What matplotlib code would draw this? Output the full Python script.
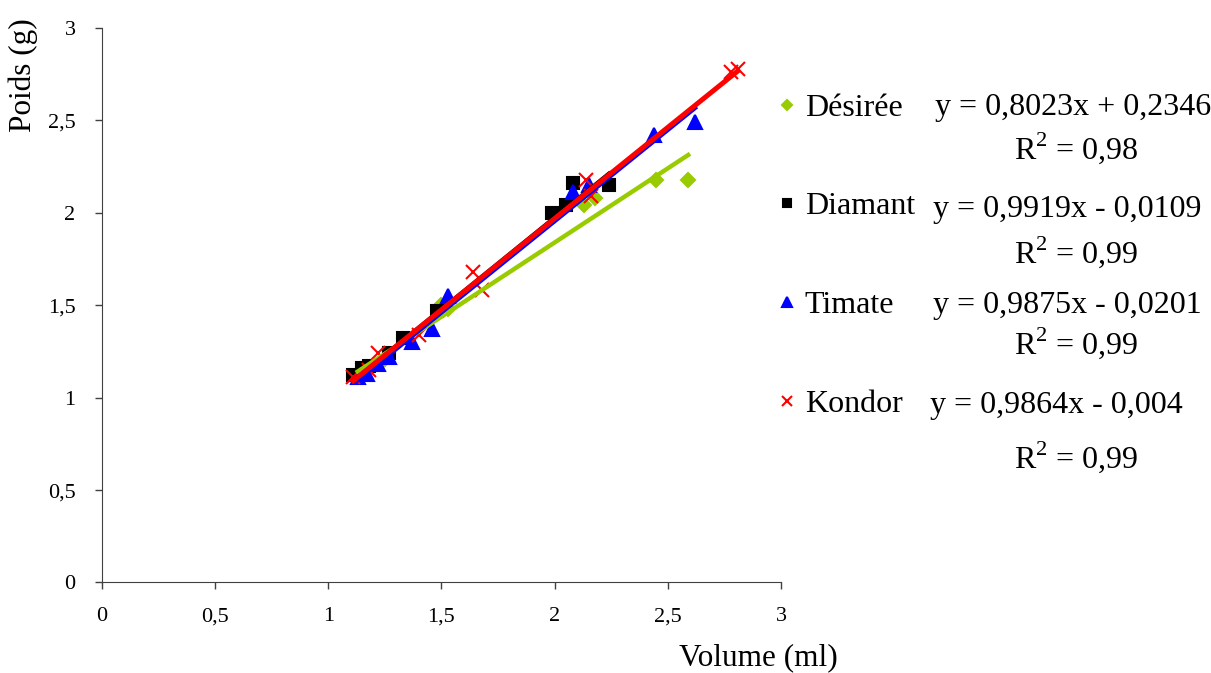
import numpy as np
import matplotlib.pyplot as plt
from matplotlib.lines import Line2D

plt.rcParams['font.family'] = ['Liberation Serif', 'DejaVu Serif']
plt.rcParams['mathtext.fontset'] = 'custom'
plt.rcParams['mathtext.rm'] = 'Liberation Serif'

# --- DATA ---
varieties = ['Désirée', 'Diamant', 'Timate', 'Kondor']

desiree_x = [1.13, 1.18, 1.25, 1.50, 1.53, 2.13, 2.18, 2.45, 2.59]
desiree_y = [1.12, 1.16, 1.21, 1.50, 1.48, 2.04, 2.08, 2.18, 2.18]

diamant_x = [1.11, 1.15, 1.18, 1.27, 1.33, 1.48, 1.99, 2.05, 2.08, 2.24]
diamant_y = [1.12, 1.16, 1.17, 1.24, 1.32, 1.47, 2.00, 2.04, 2.16, 2.15]

timate_x = [1.13, 1.17, 1.22, 1.27, 1.37, 1.46, 1.53, 2.08, 2.15, 2.44, 2.62]
timate_y = [1.11, 1.13, 1.18, 1.22, 1.30, 1.37, 1.55, 2.11, 2.15, 2.42, 2.49]

kondor_x = [1.11, 1.18, 1.22, 1.40, 1.64, 1.68, 2.14, 2.16, 2.78, 2.81]
kondor_y = [1.11, 1.15, 1.24, 1.34, 1.68, 1.58, 2.18, 2.09, 2.76, 2.78]

slopes = [0.8023, 0.9919, 0.9875, 0.9864]
intercepts = [0.2346, -0.0109, -0.0201, -0.004]
r2 = ['0,98', '0,99', '0,99', '0,99']
equations = ['y = 0,8023x + 0,2346', 'y = 0,9919x - 0,0109',
             'y = 0,9875x - 0,0201', 'y = 0,9864x - 0,004']

xs = [desiree_x, diamant_x, timate_x, kondor_x]
ys = [desiree_y, diamant_y, timate_y, kondor_y]
colors = ['#99CC00', 'black', '#0000FF', '#FF0000']
markers = ['D', 's', '^', 'x']
msizes = [7, 8.5, 9.5, 10]

# --- PLOT ---
fig = plt.figure(figsize=(12.11, 6.73), dpi=100)
ax = fig.add_axes([0.0842, 0.1345, 0.5607, 0.824])

for x, y, c, m, ms in zip(xs, ys, colors, markers, msizes):
    ax.plot(x, y, ls='none', marker=m, color=c, ms=ms, mew=1.5)

for x, a, b, c in zip(xs, slopes, intercepts, colors):
    xl = np.array([min(x), max(x)])
    ax.plot(xl, a * xl + b, color=c, lw=3.2 if c != '#FF0000' else 3.6)

ax.set_xlim(0, 3)
ax.set_ylim(0, 3)
ax.set_xticks([0, 0.5, 1, 1.5, 2, 2.5, 3])
ax.set_yticks([0, 0.5, 1, 1.5, 2, 2.5, 3])
ax.set_xticklabels(['0', '0,5', '1', '1,5', '2', '2,5', '3'])
ax.set_yticklabels(['0', '0,5', '1', '1,5', '2', '2,5', '3'])
ax.tick_params(labelsize=16, length=5, width=1, color='#404040', pad=13)
ax.tick_params(axis='y', pad=14)
for s in ['top', 'right']:
    ax.spines[s].set_visible(False)
for s in ['left', 'bottom']:
    ax.spines[s].set_color('#404040')

ax.set_xlabel('Volume (ml)', fontsize=22.5)
ax.xaxis.set_label_coords(0.966, -0.109)
ax.set_ylabel('Poids (g)', fontsize=22.5)
ax.yaxis.set_label_coords(-0.094, 0.915)

# legend
handles = [Line2D([], [], ls='none', marker=m, color=c, ms=ms * 0.75, mew=1.5)
           for c, m, ms in zip(colors, markers, msizes)]
fig.legend(handles, varieties, loc='upper left', bbox_to_anchor=(0.629, 0.885),
           frameon=False, fontsize=23, handlelength=0.6, handletextpad=0.25,
           labelspacing=2.17, borderpad=0)

# equations
eq_y = [108, 210, 306, 405]
r2_y = [148, 252, 343, 457]
eq_x = [935, 933, 933, 930]
for e, r, ey, ry, ex in zip(equations, r2, eq_y, r2_y, eq_x):
    fig.text(ex / 1211, 1 - ey / 673, e, fontsize=23, ha='left', va='center')
    fig.text(1076 / 1211, 1 - ry / 673, r'$\mathrm{R}^{2}$ = ' + r,
             fontsize=23, ha='center', va='center')

fig.savefig('out.png', dpi=100)
